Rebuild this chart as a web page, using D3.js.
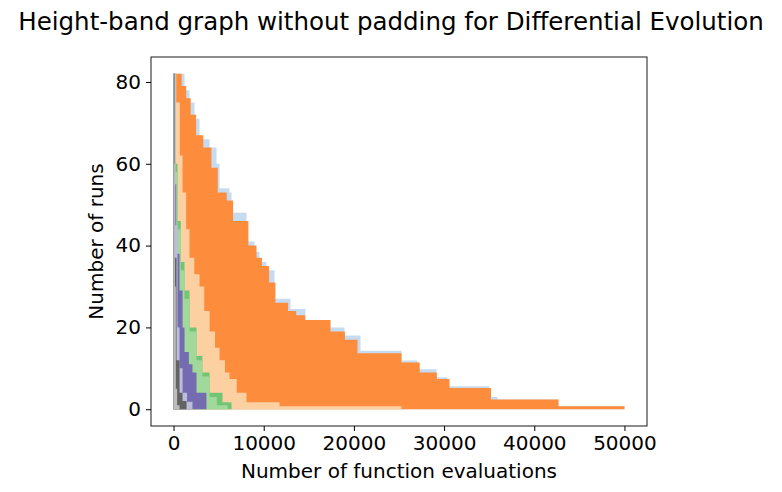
<!DOCTYPE html>
<html><head><meta charset="utf-8">
<script src="https://cdn.jsdelivr.net/npm/d3@7"></script>
<style>body{margin:0;background:#fff;font-family:"DejaVu Sans",sans-serif;}</style>
</head><body>
<script>
// step curves: runs still above each target level, at evaluation x
var blueX = [0,1220,1770,2330,2880,3990,4770,5100,6200,6430,8090,8980,9530,10300,11200,12970,14630,17400,18960,20730,25280,27050,29160,30380,35030,35920,42680,50000];
var blueY = [82,78,75,71,66,64,60,54,53,48,41,38.5,36,34,27,24.5,21.8,20,18,14.3,11.9,9.8,7.8,5.6,3,2.4,0.7,0.7];
var orangeX = [0,900,1400,1900,2500,3300,4200,4900,5900,6600,8300,9200,9800,10600,11300,12700,13600,14600,17400,19000,20400,25280,27300,29200,30600,35200,42680,50000];
var orangeY = [82,79,76,72,67,64,59,53,51,46,40,37,35,31,26,24,23,21.8,19,17,13.7,11.4,9,7.4,5.2,2.4,0.7,0.7];
var peachX = [0,300,700,1000,1400,1770,2300,2880,3400,4000,4600,5100,5700,6200,7000,8090,11750,25280];
var peachY = [82,75,62,53,44,37,33,30,24,19,15,12,9,7.4,4,1.7,0.7,0];
var greenX = [0,200,440,800,1220,1770,2550,3200,4000,5430,6430];
var greenY = [82,60,46,36,29,20,13,9,4,1.7,0];
var lgreenX = [0,200,440,800,1220,1770,2550,3200,4000,4800,6000];
var lgreenY = [82,58,44,34,27,19,12,8,3,1,0];
var purpleX = [0,150,300,665,1000,1220,1700,2100,2550,3650];
var purpleY = [82,55,38,29,20,14,11,9,4,1];
var lpurpleX = [0,200,440,665,1000,1500,2100];
var lpurpleY = [82,45,20,10,4,1.8,0];
var dgreyX = [0,110,330,665,1000,1440];
var dgreyY = [82,37,12,4,2,0];
var lgreyX = [0,60,150,250,400,665];
var lgreyY = [82,60,30,5,1,0];

var series = [
  {x: blueX, y: blueY, c: "#c6dbef"},
  {x: orangeX, y: orangeY, c: "#fd8d3c"},
  {x: peachX, y: peachY, c: "#fdd0a2"},
  {x: greenX, y: greenY, c: "#74c476"},
  {x: lgreenX, y: lgreenY, c: "#a1d99b"},
  {x: purpleX, y: purpleY, c: "#756bb1"},
  {x: lpurpleX, y: lpurpleY, c: "#bcbddc"},
  {x: dgreyX, y: dgreyY, c: "#636363"},
  {x: lgreyX, y: lgreyY, c: "#bdbdbd"}
];

var margin = {top: 57, right: 135, bottom: 66, left: 151},
    width = 782 - margin.left - margin.right,
    height = 492 - margin.top - margin.bottom;

var x = d3.scaleLinear().domain([-2500, 52500]).range([0, width]);
var y = d3.scaleLinear().domain([-4.1, 86.1]).range([height, 0]);

var svg = d3.select("body").append("svg")
    .attr("width", 782).attr("height", 492);

svg.append("text").attr("x", 391).attr("y", 30).attr("text-anchor", "middle")
    .style("font-size", "24.5px").text("Height-band graph without padding for Differential Evolution");

var g = svg.append("g").attr("transform", "translate(" + margin.left + "," + margin.top + ")");

var area = d3.area().curve(d3.curveStepAfter)
    .x(function(d) { return x(d[0]); })
    .y0(y(0))
    .y1(function(d) { return y(d[1]); });

series.forEach(function(s) {
  var pts = s.x.map(function(v, i) { return [v, s.y[i]]; });
  g.append("path").datum(pts).attr("d", area).attr("fill", s.c);
});

var xa = g.append("g").attr("transform", "translate(0," + height + ")")
    .call(d3.axisBottom(x).tickValues([0,10000,20000,30000,40000,50000]).tickFormat(d3.format("d")).tickSizeOuter(0).tickSize(5).tickPadding(5));
var ya = g.append("g")
    .call(d3.axisLeft(y).tickValues([0,20,40,60,80]).tickSizeOuter(0).tickSize(5).tickPadding(5));
[xa, ya].forEach(function(a) {
  a.selectAll("text").style("font-size", "20px").style("font-family", "DejaVu Sans").attr("fill", "#000");
  a.select(".domain").remove();
  a.selectAll("line").attr("stroke", "#000");
});

g.append("rect").attr("width", width).attr("height", height)
    .attr("fill", "none").attr("stroke", "#000").attr("stroke-width", 0.9);

svg.append("text").attr("x", margin.left + width / 2).attr("y", 478).attr("text-anchor", "middle")
    .style("font-size", "20px").text("Number of function evaluations");
svg.append("text").attr("transform", "translate(103," + (margin.top + height / 2) + ") rotate(-90)")
    .attr("text-anchor", "middle").style("font-size", "20px").text("Number of runs");
</script>
</body></html>
